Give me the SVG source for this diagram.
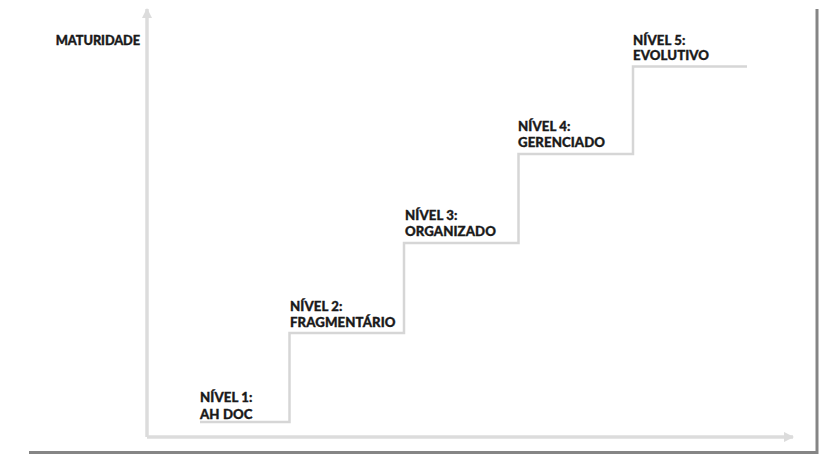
<svg xmlns="http://www.w3.org/2000/svg" width="831" height="458" viewBox="0 0 831 458">
<style>
.t{font-family:Lato,"Liberation Sans",sans-serif;font-weight:900;font-size:13.2px;fill:#1a1a1a;stroke:#1a1a1a;stroke-width:0.35px;letter-spacing:0.1px}
.y{font-family:Lato,"Liberation Sans",sans-serif;font-weight:900;font-size:12.8px;fill:#1a1a1a;stroke:#1a1a1a;stroke-width:0.35px;letter-spacing:-0.1px}
.axis{stroke:#dcdcdc;stroke-width:3.5;fill:none}
.step{stroke:#d6d6d6;stroke-width:2.5;fill:none}
.frame{stroke:#858585;stroke-width:3;fill:none}
</style>
<defs>
<marker id="ah" viewBox="0 0 10 10" refX="9" refY="5" markerWidth="3" markerHeight="3" orient="auto" markerUnits="strokeWidth">
<path d="M0,0 L10,5 L0,10 Z" fill="#dcdcdc"/>
</marker>
</defs>
<rect width="831" height="458" fill="#ffffff"/>
<g id="frame"><polyline class="frame" points="817,9 817,452.5 29,452.5"/></g>
<g id="connectors">
<line class="axis" x1="147" y1="437" x2="147" y2="9" marker-end="url(#ah)"/>
<line class="axis" x1="147" y1="437" x2="793" y2="437" marker-end="url(#ah)"/>
<polyline class="step" points="200,422 289.5,422 289.5,333 404,333 404,243 518.5,243 518.5,154 633,154 633,66.5 747,66.5"/>
</g>
<g id="label-y"><text class="y" x="140" y="45" text-anchor="end">MATURIDADE</text></g>
<g id="nivel1"><text class="t" x="200" y="402">NÍVEL 1:</text><text class="t" x="200" y="418.5">AH DOC</text></g>
<g id="nivel2"><text class="t" x="290" y="310.5">NÍVEL 2:</text><text class="t" x="290" y="326.5">FRAGMENTÁRIO</text></g>
<g id="nivel3"><text class="t" x="405" y="220">NÍVEL 3:</text><text class="t" x="405" y="236">ORGANIZADO</text></g>
<g id="nivel4"><text class="t" x="518" y="131">NÍVEL 4:</text><text class="t" x="518" y="146.5">GERENCIADO</text></g>
<g id="nivel5"><text class="t" x="633" y="45">NÍVEL 5:</text><text class="t" x="633" y="59.5">EVOLUTIVO</text></g>
</svg>
